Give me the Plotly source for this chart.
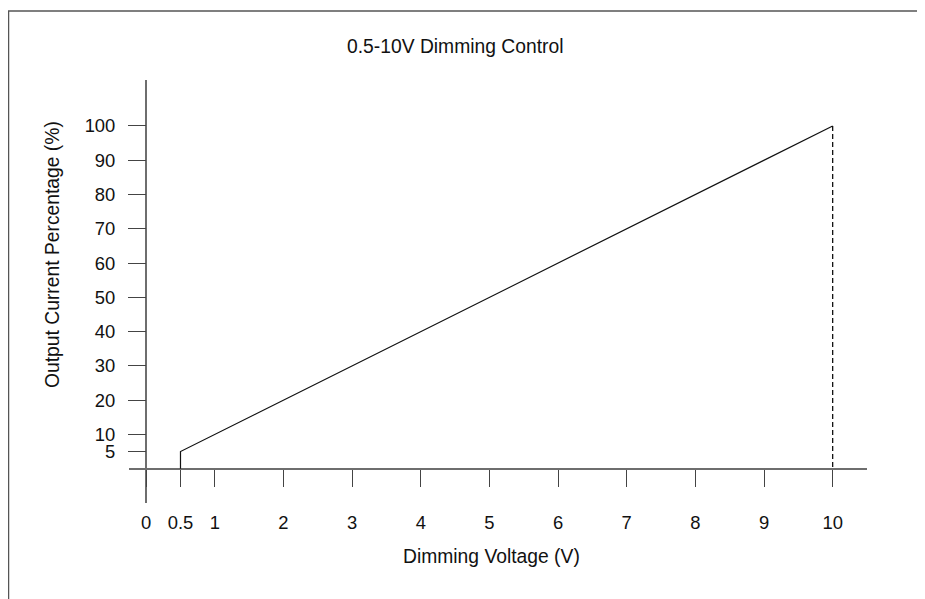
import plotly.graph_objects as go

# Data
voltage = [0.5, 0.5, 10]          # Dimming voltage (V)
current = [0, 5, 100]             # Output current (%)
drop_voltage = [10, 10]
drop_current = [100, 0]
x_tickvals = [0, 0.5, 1, 2, 3, 4, 5, 6, 7, 8, 9, 10]
x_ticktext = ["0", "0.5", "1", "2", "3", "4", "5", "6", "7", "8", "9", "10"]
y_tickvals = [5, 10, 20, 30, 40, 50, 60, 70, 80, 90, 100]
y_ticktext = ["5", "10", "20", "30", "40", "50", "60", "70", "80", "90", "100"]

OFF = 8  # page body margin
W, H = 925 - OFF, 599 - OFF
# plot area in screenshot pixels
SX0, SX1, SY0, SY1 = 129, 867, 80, 503
L, R, T, B = SX0 - OFF, W - (SX1 - OFF), SY0 - OFF, H - (SY1 - OFF)
PW, PH = W - L - R, H - T - B

def px(xs):
    return (xs - OFF - L) / PW

def py(ys):
    return (H - B - (ys - OFF)) / PH

FONT = "Liberation Sans, Arial, sans-serif"
FS_TICK = 18.4
FS_TITLE = 19.3

fig = go.Figure()
fig.add_trace(go.Scatter(x=voltage, y=current, mode="lines",
                         line=dict(color="#111111", width=1.2),
                         showlegend=False, hoverinfo="skip"))
fig.add_trace(go.Scatter(x=drop_voltage, y=drop_current, mode="lines",
                         line=dict(color="#111111", width=1.3, dash="5px,3px"),
                         showlegend=False, hoverinfo="skip"))

fig.update_layout(
    width=W, height=H, autosize=False,
    margin=dict(l=L, r=R, t=T, b=B, pad=0),
    paper_bgcolor="white", plot_bgcolor="white",
    font=dict(family=FONT, size=FS_TICK, color="#111111"),
    xaxis=dict(range=[-0.25, 10.5], showgrid=False, showline=False,
               zeroline=True, zerolinecolor="#6e6e6e", zerolinewidth=1.6,
               tickmode="array", tickvals=x_tickvals, ticktext=x_ticktext,
               ticks="outside", ticklen=17, tickwidth=1.4, tickcolor="#444444",
               anchor="free", position=py(469), ticklabelstandoff=20,
               tickfont=dict(family=FONT, size=FS_TICK, color="#111111")),
    yaxis=dict(range=[-10, 113.4], showgrid=False, showline=False,
               zeroline=True, zerolinecolor="#6e6e6e", zerolinewidth=1.6,
               tickmode="array", tickvals=y_tickvals, ticktext=y_ticktext,
               ticks="outside", ticklen=18, tickwidth=1.4, tickcolor="#444444",
               anchor="free", position=px(146), ticklabelstandoff=9,
               tickfont=dict(family=FONT, size=FS_TICK, color="#111111")),
    annotations=[
        dict(text="0.5-10V Dimming Control", x=px(455), y=py(46),
             xref="paper", yref="paper", showarrow=False,
             xanchor="center", yanchor="middle",
             font=dict(family=FONT, size=FS_TITLE, color="#111111")),
        dict(text="Dimming Voltage (V)", x=px(491), y=py(556),
             xref="paper", yref="paper", showarrow=False,
             xanchor="center", yanchor="middle",
             font=dict(family=FONT, size=FS_TITLE, color="#111111")),
        dict(text="Output Current Percentage (%)", x=px(52), y=py(255),
             xref="paper", yref="paper", showarrow=False, textangle=-90,
             xanchor="center", yanchor="middle",
             font=dict(family=FONT, size=FS_TITLE, color="#111111")),
    ],
    shapes=[
        dict(type="rect", xref="paper", yref="paper",
             x0=px(8.5), x1=px(945), y0=py(620), y1=py(11),
             line=dict(color="#555555", width=1.5), fillcolor="rgba(0,0,0,0)",
             layer="below"),
    ],
)

fig.write_html("out.html")
